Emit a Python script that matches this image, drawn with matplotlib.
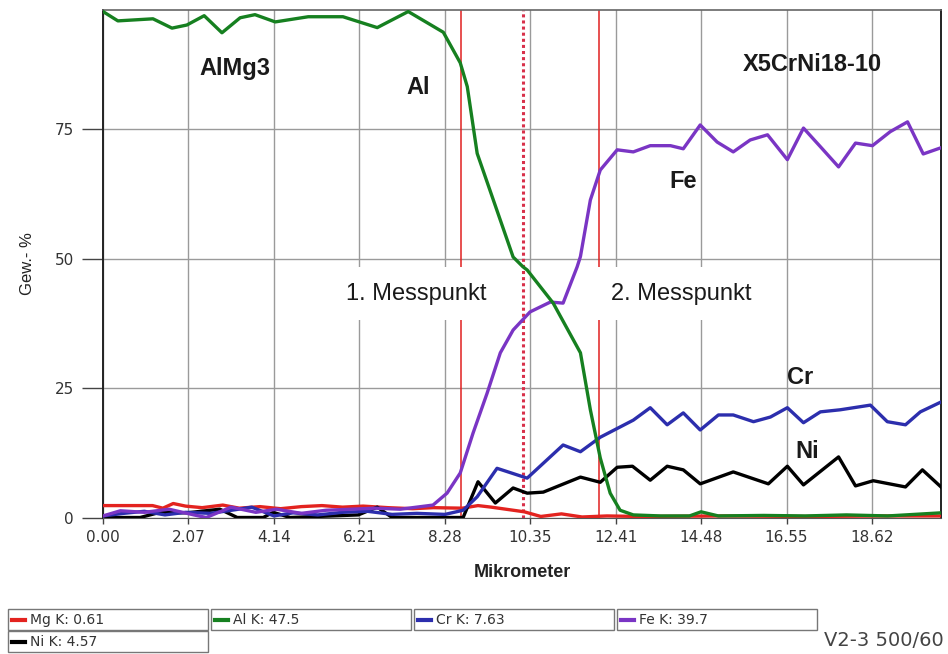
import matplotlib
matplotlib.use("Agg")
import matplotlib.pyplot as plt
from matplotlib.patches import Rectangle
from matplotlib.lines import Line2D

# --- data ---
x_mg = [0.0, 1.2, 1.45, 1.7, 2.0, 2.4, 2.9, 3.3, 3.8, 4.3, 4.8, 5.3, 5.8, 6.3, 6.9, 7.5, 8.0,
        8.7, 9.08, 9.4, 10.2, 10.6, 11.1, 11.6, 12.2, 13.0, 15.0, 17.0, 19.0, 20.29]
y_mg = [2.3, 2.3, 1.8, 2.7, 2.2, 1.9, 2.4, 1.8, 2.1, 1.7, 2.1, 2.3, 2.0, 2.2, 1.9, 1.7, 1.9,
        1.8, 2.3, 2.0, 1.1, 0.2, 0.7, 0.1, 0.3, 0.2, 0.3, 0.2, 0.3, 0.3]

x_al = [0.0, 0.36, 1.21, 1.67, 2.03, 2.45, 2.88, 3.32, 3.68, 4.17, 4.97, 5.81, 6.64, 7.39,
        8.24, 8.65, 8.82, 9.06, 9.93, 10.17, 10.27, 10.90, 11.56, 11.80, 12.04, 12.28, 12.52,
        12.84, 13.5, 14.2, 14.48, 14.9, 16.0, 17.0, 18.0, 19.0, 20.29]
y_al = [97.7, 95.9, 96.3, 94.5, 95.1, 96.9, 93.6, 96.5, 97.1, 95.7, 96.7, 96.7, 94.6, 97.7,
        93.7, 87.8, 83.2, 70.3, 50.3, 48.4, 47.8, 41.4, 31.8, 20.8, 11.5, 4.7, 1.4,
        0.5, 0.3, 0.3, 1.1, 0.3, 0.4, 0.3, 0.5, 0.3, 0.9]

x_cr = [0.0, 0.5, 1.0, 1.5, 2.0, 2.6, 3.2, 3.6, 4.14, 4.6, 5.2, 5.8, 6.4, 7.0, 7.6, 8.28,
        8.72, 9.06, 9.54, 10.27, 11.14, 11.56, 12.04, 12.84, 13.25, 13.66, 14.05, 14.46,
        14.9, 15.26, 15.75, 16.16, 16.57, 16.96, 17.37, 17.85, 18.58, 18.99, 19.43, 19.79, 20.29]
y_cr = [0.3, 0.8, 1.2, 0.5, 1.0, 0.8, 1.5, 2.0, 0.3, 0.9, 0.5, 1.0, 1.2, 0.6, 0.8, 0.6,
        1.4, 4.0, 9.5, 7.6, 14.0, 12.7, 15.5, 18.8, 21.2, 17.9, 20.2, 16.9,
        19.8, 19.8, 18.5, 19.4, 21.2, 18.3, 20.4, 20.8, 21.7, 18.5, 17.9, 20.4, 22.3]

x_fe = [0.0, 0.42, 1.0, 1.6, 2.2, 2.5, 3.1, 3.7, 4.2, 4.8, 5.4, 6.0, 6.6, 7.2, 7.99,
        8.33, 8.65, 8.96, 9.30, 9.62, 9.93, 10.34, 10.83, 11.14, 11.48, 11.56, 11.80,
        12.04, 12.45, 12.84, 13.25, 13.74, 14.05, 14.46, 14.87, 15.26, 15.67, 16.09, 16.57,
        16.96, 17.37, 17.81, 18.22, 18.63, 19.06, 19.48, 19.86, 20.29]
y_fe = [0.3, 1.3, 1.0, 1.6, 0.5, 0.0, 2.0, 1.0, 1.6, 0.8, 1.4, 1.6, 1.8, 1.6, 2.4,
        4.7, 8.6, 16.3, 24.0, 31.8, 36.2, 39.7, 41.6, 41.4, 48.4, 50.4, 61.3,
        67.1, 71.0, 70.6, 71.8, 71.8, 71.2, 75.8, 72.5, 70.6, 72.9, 73.9, 69.1,
        75.2, 71.6, 67.7, 72.3, 71.8, 74.5, 76.4, 70.2, 71.4]

x_ni = [0.0, 0.9, 1.38, 2.03, 2.83, 3.25, 3.88, 4.12, 4.53, 6.18, 6.64, 7.0, 8.72, 9.08,
        9.50, 9.93, 10.27, 10.66, 11.56, 12.04, 12.45, 12.82, 13.25, 13.66, 14.05, 14.46,
        15.26, 16.11, 16.57, 16.96, 17.81, 18.22, 18.65, 19.43, 19.84, 20.29]
y_ni = [0.0, 0.0, 1.0, 0.9, 1.6, 0.0, 0.0, 1.0, 0.0, 0.5, 2.0, 0.0, 0.0, 6.9,
        2.8, 5.7, 4.7, 4.9, 7.8, 6.8, 9.7, 9.9, 7.2, 9.9, 9.2, 6.5,
        8.8, 6.5, 9.9, 6.3, 11.7, 6.1, 7.1, 5.9, 9.2, 5.9]

x_ticks = [0.00, 2.07, 4.14, 6.21, 8.28, 10.35, 12.41, 14.48, 16.55, 18.62]
y_ticks = [0, 25, 50, 75]
mess_lines = [8.67, 12.01]
mess_dotted = 10.18

legend_names = ["Mg K: 0.61", "Al K: 47.5", "Cr K: 7.63", "Fe K: 39.7", "Ni K: 4.57"]

col_mg = "#e3231f"
col_al = "#168020"
col_cr = "#2c2ead"
col_fe = "#7a35c4"
col_ni = "#000000"
colors = [col_mg, col_al, col_cr, col_fe, col_ni]

W, H = 948, 654
fig = plt.figure(figsize=(W / 100, H / 100), dpi=100)
ax = fig.add_axes([103 / W, 1 - 517.5 / H, (941 - 103) / W, (517.5 - 10) / H])

lw = 2.4
ax.plot(x_mg, y_mg, color=col_mg, lw=lw, zorder=3)
ax.plot(x_ni, y_ni, color=col_ni, lw=lw, zorder=4)
ax.plot(x_cr, y_cr, color=col_cr, lw=lw, zorder=4)
ax.plot(x_fe, y_fe, color=col_fe, lw=lw, zorder=5)
ax.plot(x_al, y_al, color=col_al, lw=lw, zorder=6)

for xv in mess_lines:
    ax.axvline(xv, color="#e02020", lw=1.1, zorder=2)
ax.axvline(mess_dotted, color="#d8304a", lw=2.2, ls=(0, (1, 1)), zorder=2)

ax.set_xlim(0, 20.29)
ax.set_ylim(0, 98)
ax.set_xticks(x_ticks)
ax.set_xticklabels(["%.2f" % v for v in x_ticks])
ax.set_yticks(y_ticks)
ax.grid(True, color="#9a9a9a", lw=1.0, zorder=1)
ax.set_axisbelow(True)
ax.tick_params(axis="y", length=15, width=1.0, color="#444444", pad=6,
               labelsize=11, labelcolor="#333333")
ax.tick_params(axis="x", length=4, width=1.0, color="#444444", pad=5,
               labelsize=11, labelcolor="#333333")
for s in ["left", "right"]:
    ax.spines[s].set_color("#222222")
    ax.spines[s].set_linewidth(1.4)
ax.spines["bottom"].set_color("#555555")
ax.spines["top"].set_color("#666666")
ax.spines["top"].set_linewidth(1.2)

ax.set_xlabel("Mikrometer", fontsize=13, fontweight="bold", family="Liberation Sans",
              color="#222222", labelpad=14)
ax.set_ylabel("Gew.- %", fontsize=12, family="Liberation Sans", color="#222222", labelpad=14)

bold = dict(fontsize=17, fontweight="bold", family="Liberation Sans", color="#1a1a1a",
            ha="center", va="center", zorder=8)
ax.text(3.2, 86.8, "AlMg3", **bold)
ax.text(7.63, 83.0, "Al", **bold)
ax.text(17.18, 87.4, "X5CrNi18-10", **bold)
ax.text(14.05, 64.8, "Fe", **bold)
ax.text(16.88, 27.0, "Cr", **bold)
ax.text(17.05, 12.7, "Ni", **bold)

box = dict(boxstyle="square,pad=0.65", facecolor="white", edgecolor="none")
ax.text(7.58, 43.2, "1. Messpunkt", fontsize=17, family="Liberation Sans", color="#1a1a1a",
        ha="center", va="center", bbox=box, zorder=7)
ax.text(14.0, 43.2, "2. Messpunkt", fontsize=17, family="Liberation Sans", color="#1a1a1a",
        ha="center", va="center", bbox=box, zorder=7)

# legend boxes along the bottom
for i, (name, c) in enumerate(zip(legend_names, colors)):
    row, col = divmod(i, 4)
    x0 = 8 + col * 203
    y0 = 609 + row * 22
    fig.add_artist(Rectangle((x0 / W, 1 - (y0 + 21) / H), 200 / W, 21 / H,
                             transform=fig.transFigure, facecolor="white",
                             edgecolor="#777777", lw=1.0))
    fig.add_artist(Line2D([(x0 + 4) / W, (x0 + 17) / W], [1 - (y0 + 11) / H] * 2,
                          transform=fig.transFigure, color=c, lw=3))
    fig.text((x0 + 22) / W, 1 - (y0 + 11) / H, name, fontsize=10, color="#333333",
             ha="left", va="center")

fig.text(944 / W, 1 - 641 / H, "V2-3 500/60", fontsize=14, color="#444444",
         ha="right", va="center")

fig.savefig("out.png", dpi=100)
